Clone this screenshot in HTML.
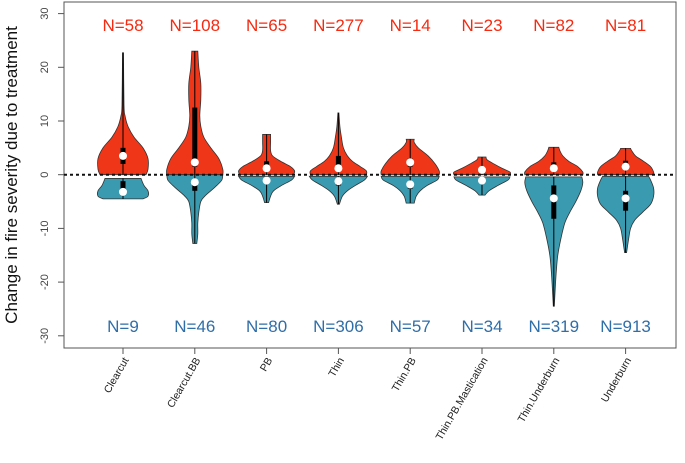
<!DOCTYPE html>
<html><head><meta charset="utf-8"><style>
body{margin:0;background:#fff}
svg{display:block;font-family:"Liberation Sans",Arial,sans-serif}
</style></head><body>
<svg id="c" width="685" height="463"></svg>
<script>
const categories=["Clearcut","Clearcut.BB","PB","Thin","Thin.PB","Thin.PB.Mastication","Thin.Underburn","Underburn"];
const nUp=[58,108,65,277,14,23,82,81];
const nDown=[9,46,80,306,57,34,319,913];
const upProfiles=[
[[0,23],[1,25],[3,25],[5,20],[7,11],[9,5],[11,2],[13,1],[22.7,0.5]],
[[0,28],[1,28],[3,24],[5,16],[7,9],[9,6],[11,5],[14,6],[17,6],[20,4],[23,3]],
[[0,27],[0.7,28],[1.5,24],[2.5,14],[3.5,6],[4.5,4],[6,4],[7.5,4]],
[[0,28],[0.7,28],[1.5,22],[2.5,14],[3.5,9],[5,5],[7,3],[9,1.5],[11.5,0.5]],
[[0,29],[0.7,29],[2,25],[3.5,18],[5,8],[6,4],[6.6,4]],
[[0,28],[0.5,28],[1.2,20],[2,12],[2.8,5],[3.3,4]],
[[0,29],[0.5,29],[1.5,24],[2.5,15],[3.5,9],[4.5,6],[5.1,5]],
[[0,28],[0.5,28],[1.5,25],[2.5,18],[3.5,10],[4.5,6],[4.9,5]]];
const downProfiles=[
[[-0.7,18],[-2,21],[-3,25],[-4,25],[-4.5,20]],
[[0,28],[-1,27],[-2,22],[-3,16],[-4,10],[-5,6],[-7,4],[-9,3],[-11,3],[-12.8,2]],
[[-0.3,28],[-1,25],[-2,15],[-3,7],[-4,4],[-5.2,2]],
[[-0.3,29],[-1,26],[-2,17],[-3,9],[-4,4],[-5.5,1]],
[[-0.3,29],[-1,27],[-2,17],[-3,10],[-4,6],[-5.3,4]],
[[-0.4,28],[-1,26],[-2,16],[-3,7],[-3.8,3]],
[[-0.4,28],[-1.5,29],[-3,27],[-5,22],[-7,16],[-9,11],[-12,7],[-15,4],[-18,2.5],[-21,1.5],[-24.5,0.5]],
[[-0.3,23],[-1,25],[-2.5,28],[-4,28],[-5.5,25],[-7,17],[-8.5,9],[-10,5],[-12,3],[-14.5,1]]];
const upMedian=[3.5,2.3,1.2,1.2,2.3,0.9,1.2,1.5];
const upBox=[[2,5],[1.5,12.5],[1.5,2.5],[1.5,3.5],[1.5,3],[0.7,1.2],[1.2,2.3],[1.3,2.6]];
const downMedian=[-3.2,-1.4,-1.1,-1.2,-1.8,-1.1,-4.4,-4.4];
const downBox=[[-1.2,-3],[-1,-3],[-0.8,-1.5],[-1.2,-2],[-2,-2.6],[-0.8,-1.3],[-2,-8.2],[-3,-6.7]];
const yTicks=[30,20,10,0,-10,-20,-30];

const NS="http://www.w3.org/2000/svg",svg=document.getElementById('c');
const L=64,R=676,T=2,B=348;
const y=v=>174.7-v*5.37;
const x=i=>123+i*71.8;
function mk(t,a,p){const e=document.createElementNS(NS,t);for(const k in a)e.setAttribute(k,a[k]);(p||svg).appendChild(e);return e;}
function smooth(pts){let d="M"+pts[0][0]+","+pts[0][1];for(let i=0;i<pts.length-1;i++){const p0=pts[Math.max(0,i-1)],p1=pts[i],p2=pts[i+1],p3=pts[Math.min(pts.length-1,i+2)];
d+=" C"+(p1[0]+(p2[0]-p0[0])/6)+","+(p1[1]+(p2[1]-p0[1])/6)+" "+(p2[0]-(p3[0]-p1[0])/6)+","+(p2[1]-(p3[1]-p1[1])/6)+" "+p2[0]+","+p2[1];}return d;}
function violinPath(cx,prof){const r=prof.map(p=>[cx+p[1],y(p[0])]);const l=prof.slice().reverse().map(p=>[cx-p[1],y(p[0])]);
return smooth(r)+" L"+l[0][0]+","+l[0][1]+smooth(l).replace(/^M[^C]*/," ")+" Z";}

let e;
e=mk('rect',{x:L,y:T,width:R-L,height:B-T,fill:'none',stroke:'#555','stroke-width':1});

yTicks.forEach(t=>{
 e=mk('line',{x1:L,x2:L-6,y1:y(t),y2:y(t),stroke:'#555'});
 
 e=mk('text',{x:0,y:0,transform:`translate(48,${y(t)}) rotate(-90)`,'text-anchor':'middle','font-size':11,fill:'#444'});e.textContent=t;
 
});
e=mk('text',{transform:'translate(17,175) rotate(-90)','text-anchor':'middle','font-size':17,fill:'#111'});e.textContent='Change in fire severity due to treatment';


categories.forEach((c,i)=>{
 const cx=x(i);
 e=mk('path',{d:violinPath(cx,upProfiles[i]),fill:'#f03618',stroke:'#333','stroke-width':0.8});
 
 e=mk('path',{d:violinPath(cx,downProfiles[i]),fill:'#3a9ab0',stroke:'#333','stroke-width':0.8});
 
 const uMax=upProfiles[i][upProfiles[i].length-1][0],dMin=downProfiles[i][downProfiles[i].length-1][0];
 e=mk('line',{x1:cx,x2:cx,y1:y(uMax),y2:y(upProfiles[i][0][0]),stroke:'#000','stroke-width':1});
 
 e=mk('line',{x1:cx,x2:cx,y1:y(downProfiles[i][0][0]),y2:y(dMin),stroke:'#000','stroke-width':1});
 
 [[upBox[i],upMedian[i]],[downBox[i],downMedian[i]]].forEach(([b,m])=>{
  const y1=Math.min(y(b[0]),y(b[1])),h=Math.abs(y(b[0])-y(b[1]));
  e=mk('rect',{x:cx-2.5,y:y1,width:5,height:h,fill:'#000'});
  
  e=mk('circle',{cx:cx,cy:y(m),r:4,fill:'#fff'});
  
 });
 e=mk('text',{x:cx,y:31,'text-anchor':'middle','font-size':17,fill:'#f52a10'});e.textContent='N='+nUp[i];
 
 e=mk('text',{x:cx,y:332,'text-anchor':'middle','font-size':17,fill:'#2f6ea8'});e.textContent='N='+nDown[i];
 
 e=mk('line',{x1:cx,x2:cx,y1:B,y2:B+6,stroke:'#555'});
 
 e=mk('text',{transform:`translate(${cx+6},${360}) rotate(-60)`,'text-anchor':'end','font-size':10.5,fill:'#222'});e.textContent=c;
 
});
e=mk('line',{x1:L,x2:R,y1:y(0),y2:y(0),stroke:'#111','stroke-width':2,'stroke-dasharray':'3,3'});

</script>
</body></html>
